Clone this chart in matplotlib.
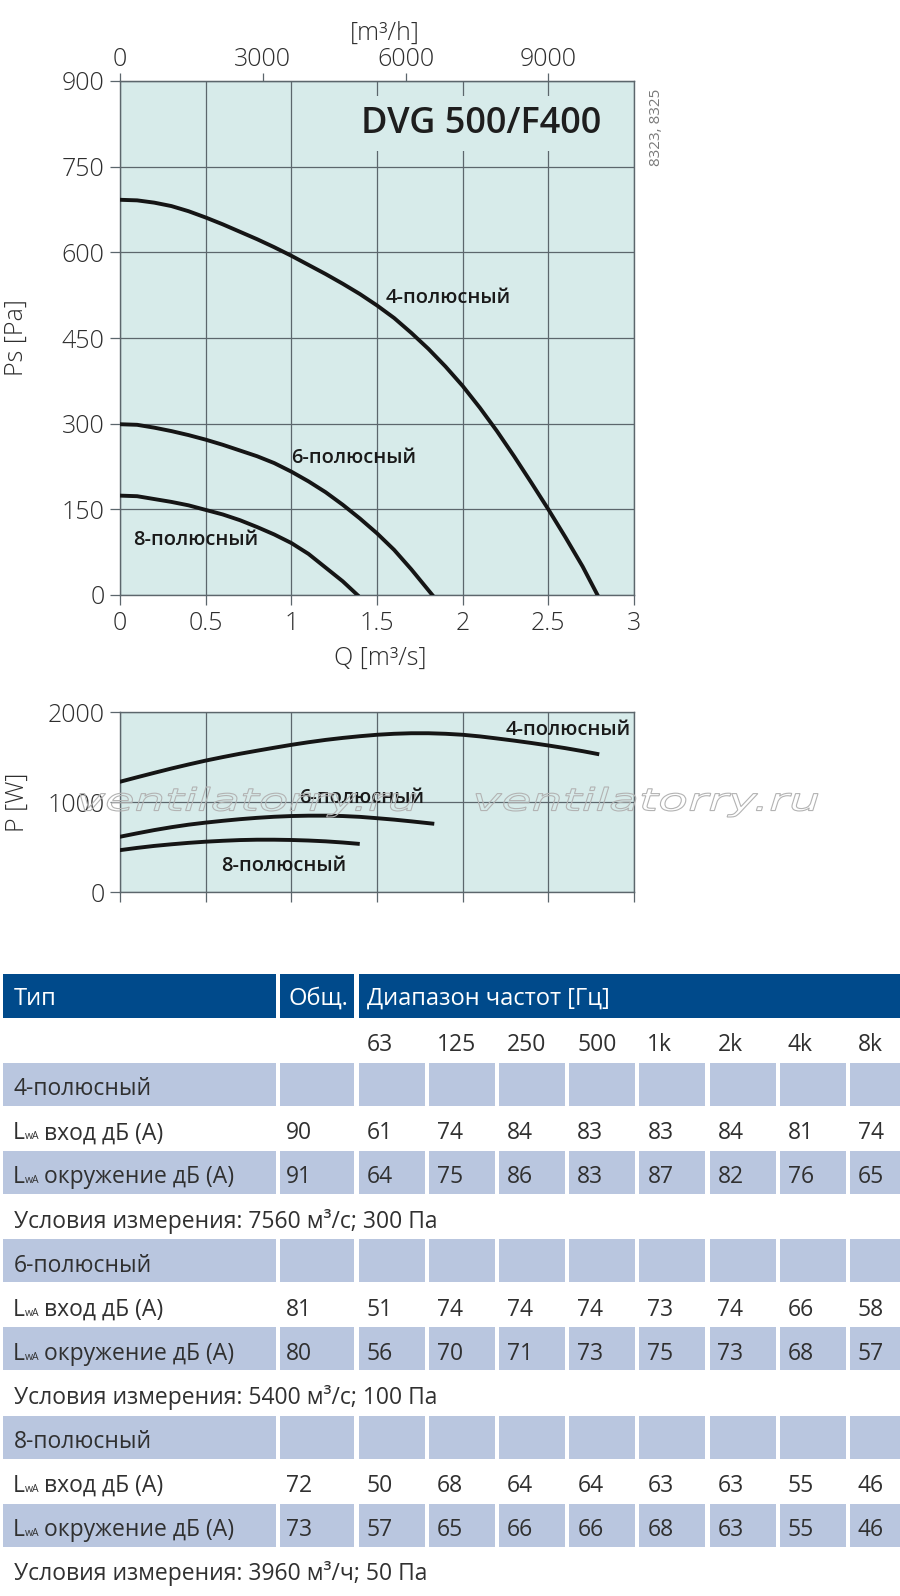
import numpy as np
import matplotlib
matplotlib.use('Agg')
import matplotlib.pyplot as plt
from matplotlib.patches import Rectangle, PathPatch
from matplotlib.textpath import TextPath
from matplotlib.font_manager import FontProperties
from matplotlib.transforms import Affine2D

plt.rcParams['font.family'] = ['Open Sans', 'DejaVu Sans']

# ---------------- data ----------------
# fan curves: static pressure Ps [Pa] vs flow Q [m3/s]
q_4 = [0, 0.1, 0.2, 0.3, 0.4, 0.5, 0.6, 0.7, 0.8, 0.9, 1.0, 1.1, 1.2, 1.3, 1.4,
       1.5, 1.6, 1.7, 1.8, 1.9, 2.0, 2.1, 2.2, 2.3, 2.4, 2.5, 2.6, 2.7, 2.787]
ps_4 = [692, 691, 687, 681, 672, 661, 649, 636, 623, 609, 594, 578, 562, 545, 527,
        507, 485, 459, 431, 400, 366, 328, 287, 243, 197, 150, 101, 50, 0]
q_6 = [0, 0.1, 0.2, 0.3, 0.4, 0.5, 0.6, 0.7, 0.8, 0.9, 1.0, 1.1, 1.2, 1.3, 1.4,
       1.5, 1.6, 1.7, 1.823]
ps_6 = [299, 298, 293, 287, 280, 272, 263, 253, 243, 231, 216, 199, 180, 158, 134,
        108, 79, 45, 0]
q_8 = [0, 0.1, 0.2, 0.3, 0.4, 0.5, 0.6, 0.7, 0.8, 0.9, 1.0, 1.1, 1.2, 1.3, 1.386]
ps_8 = [174, 173, 168, 163, 157, 149, 141, 131, 119, 106, 91, 72, 48, 24, 0]

# power curves P [W] vs Q [m3/s]
pq_4 = [0, 0.1, 0.2, 0.3, 0.4, 0.5, 0.6, 0.7, 0.8, 0.9, 1.0, 1.1, 1.2, 1.3, 1.4,
        1.5, 1.6, 1.7, 1.8, 1.9, 2.0, 2.1, 2.2, 2.3, 2.4, 2.5, 2.6, 2.7, 2.786]
pw_4 = [1225, 1275, 1324, 1372, 1417, 1460, 1499, 1536, 1570, 1603, 1635, 1664,
        1690, 1712, 1731, 1747, 1758, 1764, 1764, 1758, 1747, 1729, 1706, 1682,
        1656, 1628, 1598, 1565, 1534]
pq_6 = [0, 0.1, 0.2, 0.3, 0.4, 0.5, 0.6, 0.7, 0.8, 0.9, 1.0, 1.1, 1.2, 1.3, 1.4,
        1.5, 1.6, 1.7, 1.823]
pw_6 = [614, 652, 688, 720, 748, 771, 791, 809, 824, 836, 844, 848, 848, 844, 835,
        820, 804, 785, 760]
pq_8 = [0, 0.1, 0.2, 0.3, 0.4, 0.5, 0.6, 0.7, 0.8, 0.9, 1.0, 1.1, 1.2, 1.3, 1.388]
pw_8 = [465, 490, 512, 530, 546, 559, 569, 577, 581, 581, 578, 572, 563, 550, 536]

curve_names = ['4-полюсный', '6-полюсный', '8-полюсный']

q_ticks = [0, 0.5, 1, 1.5, 2, 2.5, 3]
q_tick_labels = ['0', '0.5', '1', '1.5', '2', '2.5', '3']
ps_ticks = [0, 150, 300, 450, 600, 750, 900]
flow_h_ticks = [0, 3000, 6000, 9000]
p_ticks = [0, 1000, 2000]

# sound table
freq_bands = ['63', '125', '250', '500', '1k', '2k', '4k', '8k']
row_types = ['4-полюсный', '6-полюсный', '8-полюсный']
inlet_total = [90, 81, 72]
inlet_bands = [[61, 74, 84, 83, 83, 84, 81, 74],
               [51, 74, 74, 74, 73, 74, 66, 58],
               [50, 68, 64, 64, 63, 63, 55, 46]]
surr_total = [91, 80, 73]
surr_bands = [[64, 75, 86, 83, 87, 82, 76, 65],
              [56, 70, 71, 73, 75, 73, 68, 57],
              [57, 65, 66, 66, 68, 63, 55, 46]]
conditions = ['Условия измерения: 7560 м³/с; 300 Па',
              'Условия измерения: 5400 м³/с; 100 Па',
              'Условия измерения: 3960 м³/ч; 50 Па']

# ---------------- figure ----------------
W, H = 900, 1596
fig = plt.figure(figsize=(W / 100, H / 100), dpi=100)
fig.patch.set_facecolor('white')


def fx(x):
    return x / W


def fy(y):
    return 1 - y / H


BG = '#d7ebea'
GRID = '#5c666c'
TXT = '#2e2e2e'
CURVE = '#151515'

L, R = 120, 634
ax = fig.add_axes([fx(L), fy(595), (R - L) / W, (595 - 81) / H])
ax2 = fig.add_axes([fx(L), fy(892), (R - L) / W, (892 - 712) / H])


def style(a):
    a.set_facecolor(BG)
    for s in a.spines.values():
        s.set_color(GRID)
        s.set_linewidth(1.0)
    a.set_axisbelow(True)
    a.grid(True, color=GRID, linewidth=0.9)
    a.tick_params(direction='out', length=7.2, width=0.9, color=GRID,
                  labelsize=18, labelcolor=TXT)


style(ax)
ax.set_xlim(0, 3)
ax.set_ylim(0, 900)
ax.set_xticks(q_ticks)
ax.set_xticklabels(q_tick_labels)
ax.set_yticks(ps_ticks)
ax.tick_params(axis='x', pad=4.5)
ax.tick_params(axis='y', pad=4)
for lbl in ax.get_xticklabels() + ax.get_yticklabels():
    lbl.set_fontweight('light')

sec = ax.secondary_xaxis('top', functions=(lambda q: q * 3600, lambda h: h / 3600))
sec.set_xticks(flow_h_ticks)
sec.set_xticklabels([str(v) for v in flow_h_ticks])
sec.tick_params(direction='out', length=5.8, width=0.9, color=GRID,
                labelsize=18, labelcolor=TXT, pad=0.5)
sec.spines['top'].set_color(GRID)
for lbl in sec.get_xticklabels():
    lbl.set_fontweight('light')

for qs, ps in [(q_4, ps_4), (q_6, ps_6), (q_8, ps_8)]:
    ax.plot(qs, ps, color=CURVE, lw=2.8, solid_joinstyle='round', zorder=3)

lab_kw = dict(fontsize=14.5, fontweight='semibold', color='#1a1a1a',
              ha='center', va='baseline', zorder=4)
ax.text(1.918, 512, curve_names[0], **lab_kw)
ax.text(1.366, 231, curve_names[1], **lab_kw)
ax.text(0.443, 88, curve_names[2], **lab_kw)

ax.text(0.7033, 1 - (132.7 - 81) / 514, 'DVG 500/F400', transform=ax.transAxes,
        fontsize=26, fontweight='semibold', color='#1e1e1e', ha='center',
        va='baseline', zorder=5,
        bbox=dict(facecolor=BG, edgecolor='none', pad=7))

# power chart
style(ax2)
ax2.set_xlim(0, 3)
ax2.set_ylim(0, 2000)
ax2.set_xticks(q_ticks)
ax2.set_xticklabels([])
ax2.set_yticks(p_ticks)
ax2.tick_params(axis='y', pad=4)
for lbl in ax2.get_yticklabels():
    lbl.set_fontweight('light')
for qs, pw in [(pq_4, pw_4), (pq_6, pw_6), (pq_8, pw_8)]:
    ax2.plot(qs, pw, color=CURVE, lw=2.8, solid_joinstyle='round', zorder=3)
ax2.text(2.618, 1744, curve_names[0], **lab_kw)
ax2.text(1.412, 992, curve_names[1], **lab_kw)
ax2.text(0.957, 237, curve_names[2], **lab_kw)

# axis titles
fig.text(fx(385), fy(33), '[m³/h]', fontsize=18, fontweight='light', color=TXT,
         ha='center', va='center')
fig.text(fx(380), fy(658), 'Q [m³/s]', fontsize=18, fontweight='light', color=TXT,
         ha='center', va='center')
fig.text(fx(16), fy(338), 'Ps [Pa]', fontsize=18, fontweight='light', color=TXT,
         ha='center', va='center', rotation=90)
fig.text(fx(17), fy(802), 'P [W]', fontsize=18, fontweight='light', color=TXT,
         ha='center', va='center', rotation=90)
fig.text(fx(656), fy(127), '8323, 8325', fontsize=11, color='#7a7a7a',
         ha='center', va='center', rotation=90)

# ---------------- table ----------------
tax = fig.add_axes([0, 0, 1, 1], zorder=-1)
tax.set_xlim(0, W)
tax.set_ylim(H, 0)
tax.axis('off')

HDR = '#004a8b'
SHADE = '#b9c6df'
TTXT = '#303030'
TFS = 16.5
top0 = 974
P = 44.1
col0 = (3, 275.5)
col1 = (279.6, 354.2)
band_left0 = 359
band_pitch = 70.1
band_w = 66


def row_top(i):
    return top0 + i * P


def band_x(j):
    return band_left0 + band_pitch * j


# header
for (x0, x1) in [col0, col1, (band_left0, W + 20)]:
    tax.add_patch(Rectangle((x0, row_top(0)), x1 - x0, 44, facecolor=HDR,
                            edgecolor='none'))
hb = row_top(0) + 31
tax.text(14, hb, 'Тип', color='white', fontsize=17, va='baseline')
tax.text(288, hb, 'Общ.', color='white', fontsize=17, va='baseline')
tax.text(367, hb, 'Диапазон частот [Гц]', color='white', fontsize=17,
         va='baseline')

tk = dict(fontsize=TFS, color=TTXT, va='baseline')
fb = row_top(1) + 33
for j, b in enumerate(freq_bands):
    tax.text(band_x(j) + 8, fb, b, **tk)


def shade_row(r):
    y = row_top(r) + 0.5
    h = P - 1
    for (x0, x1) in [col0, col1]:
        tax.add_patch(Rectangle((x0, y), x1 - x0, h, facecolor=SHADE,
                                edgecolor='none'))
    for j in range(len(freq_bands)):
        tax.add_patch(Rectangle((band_x(j), y), band_w, h, facecolor=SHADE,
                                edgecolor='none'))


def lwa_row(r, label, total, bands):
    b = row_top(r) + 33
    tax.text(13, b, 'L', **tk)
    tax.text(25, b, 'wA', fontsize=7.5, color=TTXT, va='baseline')
    tax.text(44, b, label, **tk)
    tax.text(286, b, str(total), **tk)
    for j, v in enumerate(bands):
        tax.text(band_x(j) + 8, b, str(v), **tk)


for k in range(3):
    r = 2 + 4 * k
    shade_row(r)
    tax.text(14, row_top(r) + 33, row_types[k], **tk)
    lwa_row(r + 1, 'вход дБ (A)', inlet_total[k], inlet_bands[k])
    shade_row(r + 2)
    lwa_row(r + 2, 'окружение дБ (A)', surr_total[k], surr_bands[k])
    tax.text(14, row_top(r + 3) + 33, conditions[k], **tk)

# ---------------- watermark ----------------
wax = fig.add_axes([0, 0, 1, 1], zorder=10)
wax.set_xlim(0, W)
wax.set_ylim(H, 0)
wax.axis('off')


def outline_text(s, x0, x1, y0, y1):
    fp = FontProperties(family='DejaVu Sans', style='oblique')
    tp = TextPath((0, 0), s, size=30, prop=fp)
    ext = tp.get_extents()
    sx = (x1 - x0) / ext.width
    sy = (y1 - y0) / ext.height
    tr = Affine2D().translate(-ext.x0, -ext.y1).scale(sx, -sy).translate(x0, y0)
    wax.add_patch(PathPatch(tr.transform_path(tp), facecolor='none',
                            edgecolor='#b3b3b3', lw=0.8))


outline_text('ventilatorry.ru', 80, 416, 787, 817)
outline_text('ventilatorry.ru', 476, 818, 787, 817)

fig.savefig('out.png', dpi=100, facecolor='white')
